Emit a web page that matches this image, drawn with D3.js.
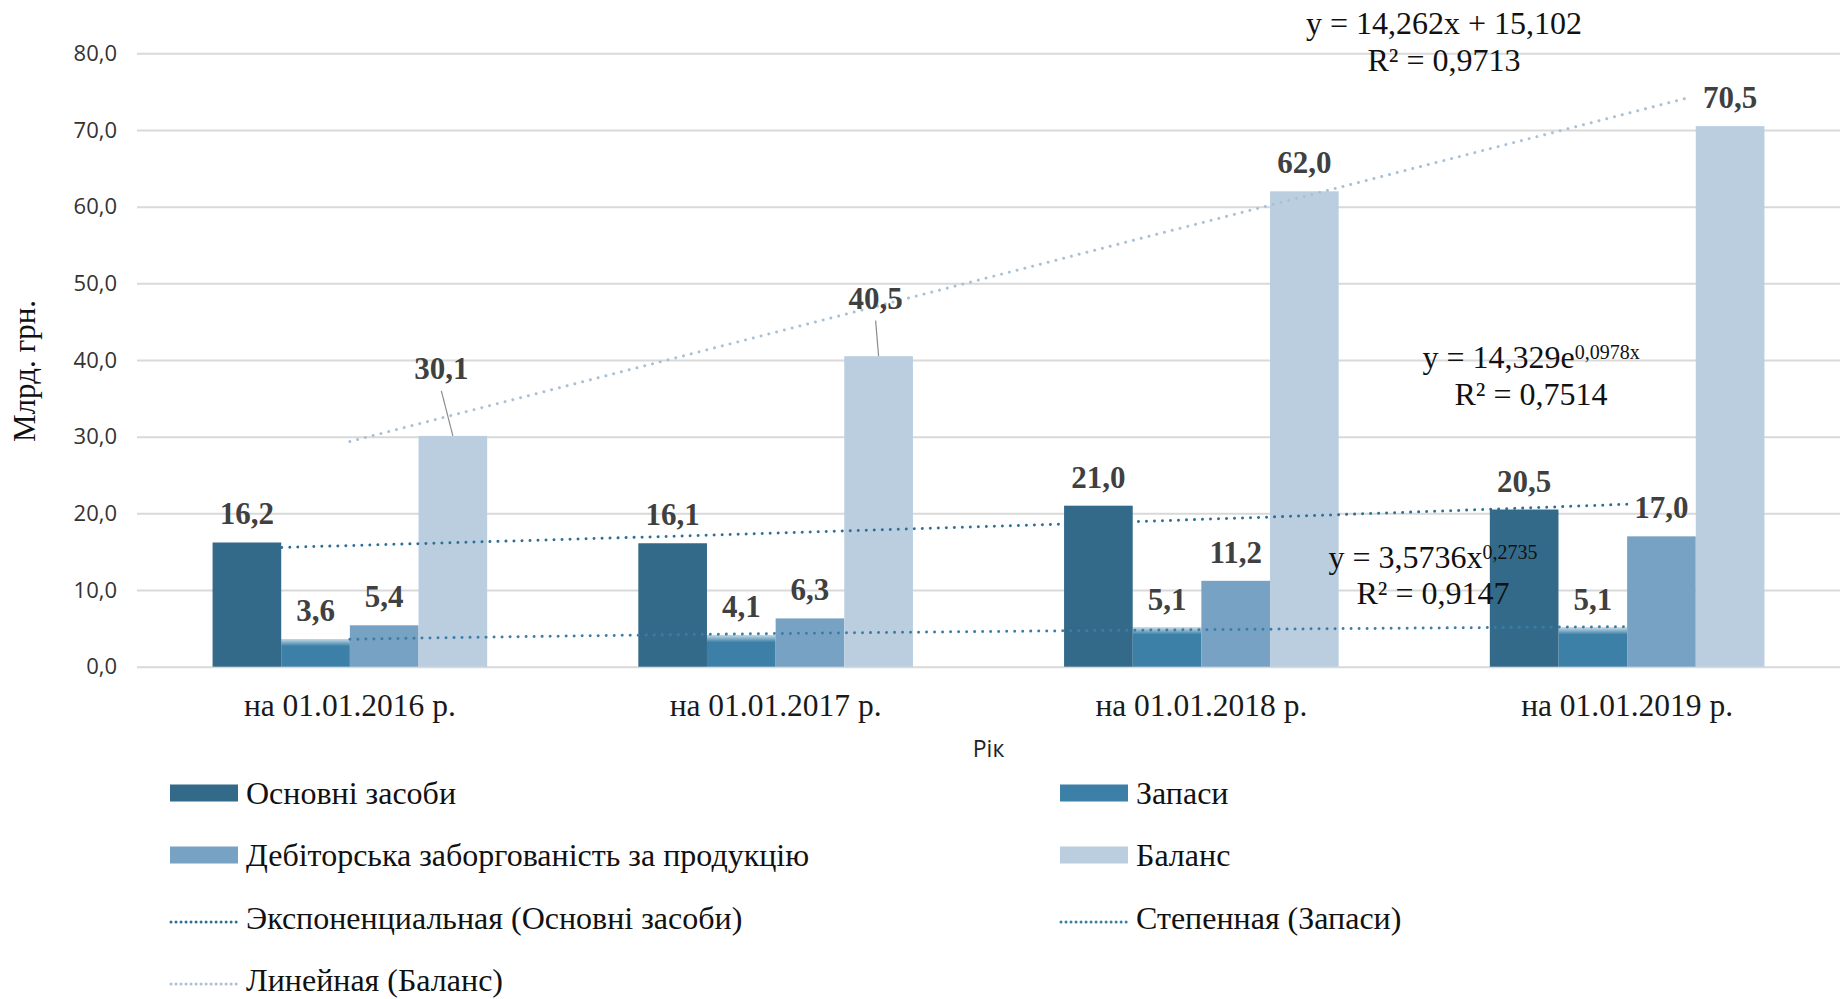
<!DOCTYPE html>
<html>
<head>
<meta charset="utf-8">
<script src="https://cdn.jsdelivr.net/npm/d3@7"></script>
<style>
  html, body { margin: 0; padding: 0; background: #fff; }
  svg { display: block; }
</style>
</head>
<body>
<svg id="chart" width="1840" height="999"></svg>
<script>
// ---------------- data ----------------
const categories = ["на 01.01.2016 р.", "на 01.01.2017 р.", "на 01.01.2018 р.", "на 01.01.2019 р."];
const seriesNames = ["Основні засоби", "Запаси", "Дебіторська заборгованість за продукцію", "Баланс"];
const osnovni    = [16.2, 16.1, 21.0, 20.5];
const zapasy     = [3.6, 4.1, 5.1, 5.1];
const debitorska = [5.4, 6.3, 11.2, 17.0];
const balans     = [30.1, 40.5, 62.0, 70.5];
const yTicks     = [0, 10, 20, 30, 40, 50, 60, 70, 80];
const trendNames = ["Экспоненциальная (Основні засоби)", "Степенная (Запаси)", "Линейная (Баланс)"];
// trendline equations as printed on the chart
const expCoef    = [14.329, 0.0978];   // y = a*e^(bx)
const powCoef    = [3.5736, 0.2735];   // y = a*x^b
const linCoef    = [14.262, 15.102];   // y = a*x + b
const expEq = ["y = 14,329e", "0,0978x", "R² = 0,7514"];
const powEq = ["y = 3,5736x", "0,2735", "R² = 0,9147"];
const linEq = ["y = 14,262x + 15,102", "R² = 0,9713"];

const fmt = v => v.toFixed(1).replace(".", ",");

// ---------------- style ----------------
const colors = ["#336a8a", "#3c80a8", "#77a2c3", "#bacee0"];
const trendColors = ["#2f6f97", "#3a7ea6", "#a9c1d7"];
const W = 1840, H = 999;
const plot = { left: 137, right: 1840, top: 53.3, bottom: 666.7 };

const svg = d3.select("#chart");

const x0 = d3.scaleBand().domain(categories).range([plot.left, plot.right])
  .paddingInner(0.355).paddingOuter(0.1775);
const x1 = d3.scaleBand().domain(d3.range(4)).range([0, x0.bandwidth()]);
const y = d3.scaleLinear().domain([0, 80]).range([plot.bottom, plot.top]);
const xT = d3.scaleLinear().domain([1, 4])
  .range([x0(categories[0]) + x0.bandwidth() / 2, x0(categories[3]) + x0.bandwidth() / 2]);

const seriesData = [osnovni, zapasy, debitorska, balans];

// gridlines
const yAxis = d3.axisLeft(y).tickValues(yTicks).tickFormat(fmt)
  .tickSize(-(plot.right - plot.left)).tickPadding(20);
const gy = svg.append("g").attr("transform", `translate(${plot.left},0)`).call(yAxis);
gy.select(".domain").remove();
gy.selectAll(".tick line").attr("stroke", "#d9d9d9").attr("stroke-width", 2);
gy.selectAll(".tick text").attr("font-family", "'Open Sans', sans-serif")
  .attr("font-size", 22).attr("fill", "#333");

// x axis labels
const xAxis = d3.axisBottom(x0).tickSize(0).tickPadding(0);
const gx = svg.append("g").attr("transform", `translate(0,${plot.bottom})`).call(xAxis);
gx.select(".domain").remove();
gx.selectAll(".tick text").attr("font-family", "'Liberation Serif', 'Times New Roman', serif")
  .attr("font-size", 31.5).attr("fill", "#1a1a1a").attr("dy", null).attr("y", 49);

// axis titles
svg.append("text").attr("transform", `translate(35,371) rotate(-90)`)
  .attr("text-anchor", "middle").attr("font-family", "'Liberation Serif', serif")
  .attr("font-size", 31).attr("fill", "#111").text("Млрд. грн.");
svg.append("text").attr("x", (plot.left + plot.right) / 2).attr("y", 757)
  .attr("text-anchor", "middle").attr("font-family", "'Open Sans', sans-serif")
  .attr("font-size", 23).attr("fill", "#222").text("Рік");

// defs
const defs = svg.append("defs");
const fade = defs.append("linearGradient").attr("id", "fadeTop")
  .attr("x1", 0).attr("y1", 0).attr("x2", 0).attr("y2", 1);
fade.append("stop").attr("offset", 0).attr("stop-color", "#fff").attr("stop-opacity", 0.7);
fade.append("stop").attr("offset", 1).attr("stop-color", "#fff").attr("stop-opacity", 0);

function drawBars(si) {
  const g = svg.append("g");
  g.selectAll("rect").data(seriesData[si]).join("rect")
    .attr("x", (d, i) => x0(categories[i]) + x1(si))
    .attr("y", d => y(d))
    .attr("width", x1.bandwidth())
    .attr("height", d => y(0) - y(d))
    .attr("fill", colors[si]);
  if (si === 1) {
    g.selectAll("rect.fade").data(seriesData[si]).join("rect").attr("class", "fade")
      .attr("x", (d, i) => x0(categories[i]) + x1(si))
      .attr("y", d => y(d))
      .attr("width", x1.bandwidth())
      .attr("height", 7)
      .attr("fill", "url(#fadeTop)");
  }
}

function trendPath(fn, from, to, color) {
  const pts = d3.range(0, 101).map(k => from + (to - from) * k / 100);
  const line = d3.line().x(t => xT(t)).y(t => y(fn(t)));
  svg.append("path").attr("d", line(pts)).attr("fill", "none")
    .attr("stroke", color).attr("stroke-width", 3)
    .attr("stroke-linecap", "round").attr("stroke-dasharray", "0.01 8");
}

drawBars(1); drawBars(2); drawBars(3);
// exponential trend (behind Основні засоби bars)
trendPath(t => expCoef[0] * Math.exp(expCoef[1] * t), 0.84, 4, trendColors[0]);
drawBars(0);
trendPath(t => linCoef[0] * t + linCoef[1], 1, 4.136, trendColors[2]);
trendPath(t => powCoef[0] * Math.pow(t, powCoef[1]), 1, 4, trendColors[1]);

// data labels
const labelShift = { "3-0": [-11.5, -39], "3-1": [-3, -29.5] };
seriesData.forEach((arr, si) => {
  arr.forEach((v, i) => {
    const cx = x0(categories[i]) + x1(si) + x1.bandwidth() / 2;
    const top = y(v);
    const sh = labelShift[`${si}-${i}`] || [0, 0];
    const lx = cx + sh[0], ly = top - 18 + sh[1];
    if (labelShift[`${si}-${i}`]) {
      svg.append("line").attr("x1", lx).attr("y1", ly + 12).attr("x2", cx).attr("y2", top)
        .attr("stroke", "#8c8c8c").attr("stroke-width", 1.2);
    }
    svg.append("text").attr("x", lx).attr("y", ly).attr("text-anchor", "middle")
      .attr("font-family", "'Liberation Serif', 'Times New Roman', serif")
      .attr("font-weight", "bold").attr("font-size", 31).attr("fill", "#404040")
      .text(fmt(v));
  });
});

// equations
const eqFont = "'Liberation Serif', 'Times New Roman', serif";
function eq(lines, cx, y1, y2, sup) {
  const t1 = svg.append("text").attr("x", cx).attr("y", y1).attr("text-anchor", "middle")
    .attr("font-family", eqFont).attr("font-size", 32).attr("fill", "#111");
  t1.append("tspan").text(lines[0]);
  if (sup) {
    t1.append("tspan").attr("font-size", 20).attr("dy", -9).text(lines[1]);
  }
  svg.append("text").attr("x", cx).attr("y", y2).attr("text-anchor", "middle")
    .attr("font-family", eqFont).attr("font-size", 32).attr("fill", "#111")
    .text(sup ? lines[2] : lines[1]);
}
eq(linEq, 1444, 34, 71, false);
eq(expEq, 1531, 368, 405, true);
eq(powEq, 1433, 568, 604, true);

// legend
const legendItems = [
  { name: seriesNames[0], color: colors[0], type: "rect", col: 0, row: 0 },
  { name: seriesNames[1], color: colors[1], type: "rect", col: 1, row: 0 },
  { name: seriesNames[2], color: colors[2], type: "rect", col: 0, row: 1 },
  { name: seriesNames[3], color: colors[3], type: "rect", col: 1, row: 1 },
  { name: trendNames[0], color: trendColors[0], type: "line", col: 0, row: 2 },
  { name: trendNames[1], color: trendColors[1], type: "line", col: 1, row: 2 },
  { name: trendNames[2], color: trendColors[2], type: "line", col: 0, row: 3 }
];
const colX = [170, 1060];
const rowY = [793, 855, 918, 980];
legendItems.forEach(it => {
  const gx0 = colX[it.col], cy = rowY[it.row];
  if (it.type === "rect") {
    svg.append("rect").attr("x", gx0).attr("y", cy - 8.5).attr("width", 68).attr("height", 17)
      .attr("fill", it.color);
  } else {
    svg.append("line").attr("x1", gx0 + 1).attr("x2", gx0 + 67).attr("y1", cy + 4).attr("y2", cy + 4)
      .attr("stroke", it.color).attr("stroke-width", 3)
      .attr("stroke-linecap", "round").attr("stroke-dasharray", "0.01 5");
  }
  svg.append("text").attr("x", gx0 + 76).attr("y", cy + 11)
    .attr("font-family", eqFont).attr("font-size", 32).attr("fill", "#111")
    .text(it.name);
});
</script>
</body>
</html>
